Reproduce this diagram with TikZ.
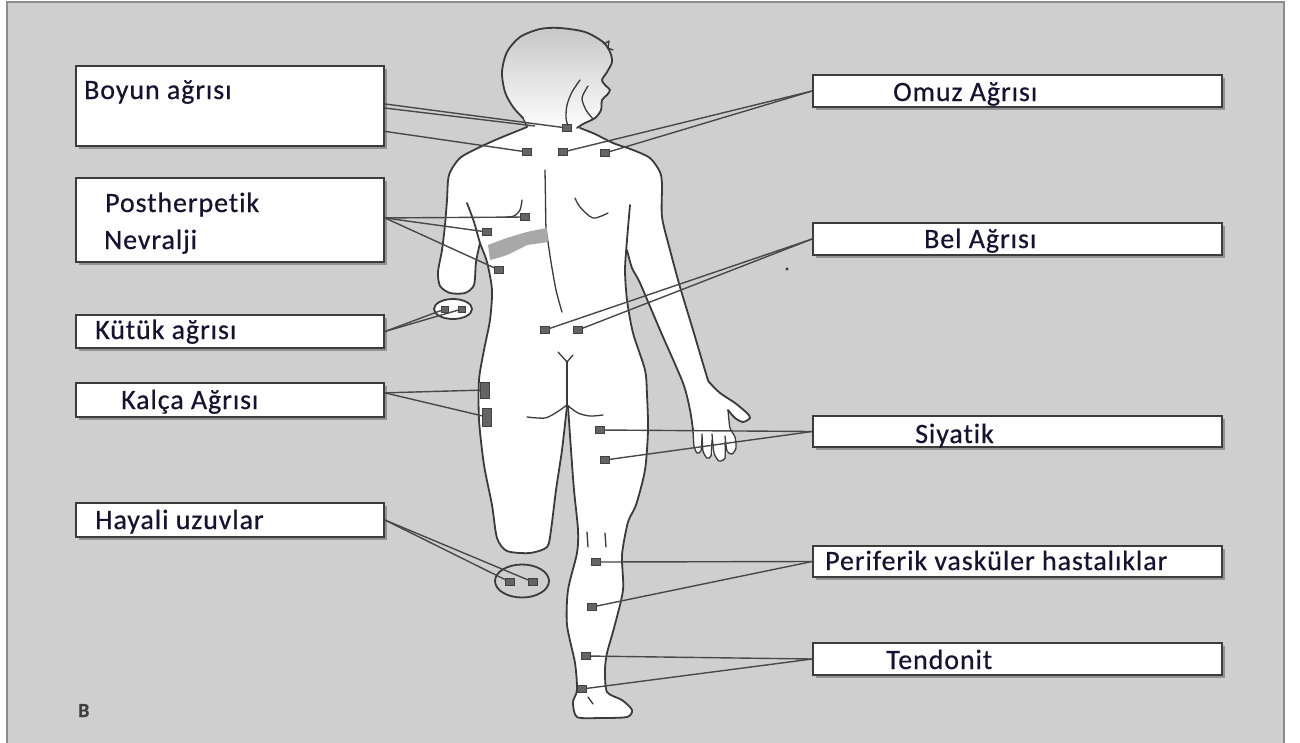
\documentclass[tikz,border=0pt]{standalone}
\usepackage{fontspec}
\setmainfont{Carlito}[LetterSpace=3.2,FakeBold=0.5,Ligatures={NoCommon,NoContextual}]
\usetikzlibrary{calc,shadows}
\definecolor{bg}{RGB}{207,207,207}
\definecolor{frameline}{RGB}{140,140,140}
\definecolor{boxline}{RGB}{60,60,60}
\definecolor{ink}{RGB}{22,18,48}
\definecolor{body}{RGB}{58,58,58}
\definecolor{wirecol}{RGB}{72,72,72}
\definecolor{mark}{RGB}{100,100,100}
\definecolor{markline}{RGB}{65,65,65}
\definecolor{band}{RGB}{168,168,168}
\begin{document}
\begin{tikzpicture}[x=1pt,y=-1pt,
  lbl/.style={draw=boxline,line width=1.8pt,fill=white,inner sep=0pt,
    drop shadow={shadow xshift=3pt,shadow yshift=-3pt,opacity=.45,fill=black!70}},
  txt/.style={font=\fontsize{28}{30}\selectfont,text=ink,inner sep=0pt,anchor=base west},
  mk/.style={rectangle,fill=mark,draw=markline,line width=.6pt,minimum width=9pt,minimum height=7pt,inner sep=0pt},
  mksmall/.style={mk,minimum width=7pt,minimum height=6pt},
  wire/.style={draw=wirecol,line width=1.4pt},
  contour/.style={draw=body,line width=1.8pt,line cap=round,line join=round},
  thinline/.style={draw=body,line width=1.3pt,line cap=round,line join=round}]
\useasboundingbox (0,0) rectangle (1300,742);

% panel
\fill[white] (0,0) rectangle (1300,742);
\fill[bg] (8,3) rectangle (1283,760);
\draw[frameline,line width=2.5pt] (7,760) -- (7,2) -- (1284,2) -- (1284,760);

% ---------- figure: silhouettes ----------
% head
\shade[top color=black!22,bottom color=white]
  plot[smooth cycle,tension=.5] coordinates {
  (523,118) (513,107) (505,92) (502,72) (507,52) (520,37) (540,29) (560,28)
  (585,32) (603,42) (610,52) (612,62) (607,72) (602,80) (606,86) (610,90)
  (607,95) (602,100) (601,110) (595,118) (583,124) (577,128) (555,131) (535,129)};

% trunk, stump of the left arm, left thigh and right leg
\fill[white] plot[smooth cycle,tension=.45] coordinates {
  (527,127) (500,138) (480,147) (460,158) (449,175) (447,200) (445,225)
  (442,250) (438,272) (440,286) (450,293) (465,293) (474,285) (476,262)
  (480,243) (487,262) (492,290) (490,320) (484,350) (479,380) (479,420)
  (484,465) (492,505) (497,538) (507,551) (530,553) (547,547) (551,530)
  (556,490) (562,450) (567,410) (571,450) (574,490) (578,530) (577,553)
  (568,590) (567,625) (575,663) (577,690) (573,702) (577,717) (600,718)
  (627,717) (632,710) (622,700) (607,692) (605,670) (607,653) (614,628)
  (623,590) (622,555) (628,522) (636,505) (645,470) (648,430) (647,395)
  (645,370) (633,333) (627,300) (625,270) (627,240) (630,205) (650,190)
  (660,175) (650,158) (633,150) (613,143) (595,134) (580,128)};

% right arm and hand
\fill[white] plot[smooth cycle,tension=.35] coordinates {
  (610,147) (633,150) (650,158) (660,172) (662,185) (662,217) (670,250)
  (680,287) (693,330) (707,377) (710,383) (720,393) (735,403) (747,413)
  (750,418) (743,422) (735,418) (728,410) (731,430) (735,437) (736,448)
  (732,454) (727,451) (725,458) (719,461) (714,453) (711,456) (707,458)
  (703,451) (701,451) (697,453) (694,446) (693,430) (690,410) (683,383)
  (660,330) (640,283) (632,268) (627,250) (627,230) (625,200) (615,170)};

% ---------- figure: outlines ----------
% head
\draw[contour] plot[smooth,tension=.5] coordinates {
  (523,118) (513,107) (505,92) (502,72) (507,52) (520,37) (540,29) (560,28)
  (585,32) (603,42) (610,52) (612,62) (607,72) (602,80) (606,86) (610,90)
  (607,95) (602,100) (601,110) (595,118) (583,124) (577,128)};
\draw[thinline] (604,44) -- (609,41) -- (608,48) -- (613,50);
\draw[thinline] plot[smooth] coordinates {(580,80) (572,92) (567,105) (566,118) (568,126)};
\draw[thinline] plot[smooth] coordinates {(588,86) (582,98) (586,110) (593,119)};
\draw[thinline] (523,118) -- (527,127);

% left shoulder and arm stump
\draw[contour] plot[smooth,tension=.45] coordinates {
  (527,127) (500,138) (480,147) (460,158) (449,175) (447,200) (445,225)
  (442,250) (438,272) (440,286) (450,293) (465,293) (474,285) (476,262)
  (480,243)};
% armpit crease, left flank and left thigh stump
\draw[contour] plot[smooth,tension=.45] coordinates {
  (467,203) (474,222) (480,243) (487,262) (492,290) (490,320) (484,350)
  (479,380) (479,420) (484,465) (492,505) (497,538) (507,551) (530,553)
  (547,547) (551,530) (556,490) (562,450) (567,406)};
% right leg and right flank
\draw[contour] plot[smooth,tension=.45] coordinates {
  (568,406) (571,450) (574,490) (578,530) (577,553) (568,590) (567,625)
  (575,663) (577,690) (573,702) (577,717) (600,718) (627,717) (632,710)
  (622,700) (607,692) (605,670) (607,653) (614,628) (623,590) (622,555)
  (628,522) (636,505) (645,470) (648,430) (647,395) (645,370) (633,333)
  (627,300) (625,270) (627,240) (630,205)};
% right shoulder and outer arm
\draw[contour] plot[smooth,tension=.45] coordinates {
  (580,128) (595,134) (613,143) (633,150) (650,158) (660,172) (662,185)
  (662,217) (670,250) (680,287) (693,330) (707,377) (710,383) (720,393)
  (735,403) (747,413) (750,418) (743,422) (735,418) (728,410)};
% inner arm
\draw[contour] plot[smooth,tension=.45] coordinates {
  (627,250) (632,268) (640,283) (660,330) (683,383) (690,410) (693,430)};
% fingers
\draw[thinline] plot[smooth,tension=.4] coordinates {
  (693,430) (694,446) (697,453) (701,451) (702,438)};
\draw[thinline] plot[smooth,tension=.4] coordinates {
  (702,434) (703,451) (707,458) (711,456) (712,440)};
\draw[thinline] plot[smooth,tension=.4] coordinates {
  (712,434) (714,453) (719,461) (725,458) (725,442)};
\draw[thinline] plot[smooth,tension=.4] coordinates {
  (725,436) (727,451) (732,454) (736,448) (735,437) (730,428) (728,410)};

% spine, shoulder blades, buttocks, knee, foot
\draw[thinline] plot[smooth] coordinates {(545,170) (545.5,200) (546,228) (548,242) (551,262) (556,290) (562,312)};
\fill[band] plot[smooth,tension=.5] coordinates {(488,245) (507,238) (527,232) (547,228)}
  -- (548,242) -- plot[smooth,tension=.5] coordinates {(527,245) (507,255) (490,260)} -- cycle;
\draw[thinline] plot[smooth] coordinates {(575,198) (580,207) (593,218) (608,213)};
\draw[thinline] plot[smooth] coordinates {(522,200) (520,210) (514,216) (506,217)};
\draw[thinline] (558,352) -- (567,362) -- (573,355);
\draw[thinline] (567,362) -- (567,408);
\draw[thinline] plot[smooth] coordinates {(527,417) (545,418) (557,412) (567,405)};
\draw[thinline] plot[smooth] coordinates {(567,405) (578,413) (590,416) (603,415)};
\draw[thinline] (587,532) -- (588,547);
\draw[thinline] (605,533) -- (606,547);
\draw[thinline] (588,697) -- (593,704);

% stump and phantom limb outlines
\draw[contour,fill=white] (453,309) ellipse [x radius=19, y radius=10];
\draw[contour] (522,581) ellipse [x radius=27, y radius=16.5];

% stray dot
\fill[black!80] (787,269) circle [radius=1.6pt];

% ---------- marker squares ----------
\node[mk] (b1) at (567,128) {};
\node[mk] (b2) at (527,152) {};
\node[mk] (b3) at (563,152) {};
\node[mk] (o1) at (605,153) {};
\node[mk] (p1) at (525,217) {};
\node[mk] (p2) at (487,232) {};
\node[mk] (p3) at (499,270) {};
\node[mksmall] (k1) at (445,309) {};
\node[mksmall] (k2) at (462,309) {};
\node[mk,minimum height=16pt] (h1) at (485,390) {};
\node[mk,minimum height=18pt] (h2) at (487,417) {};
\node[mk] (hy1) at (510,582) {};
\node[mk] (hy2) at (533,582) {};
\node[mk] (bel1) at (545,330) {};
\node[mk] (bel2) at (578,330) {};
\node[mk] (s1) at (600,430) {};
\node[mk] (s2) at (605,460) {};
\node[mk] (pv1) at (596,562) {};
\node[mk] (pv2) at (592,607) {};
\node[mk] (t1) at (586,656) {};
\node[mk] (t2) at (582,689) {};
\coordinate (nk) at (535,126);

% ---------- label boxes ----------
\node[lbl,minimum width=308pt,minimum height=80pt] (boyun) at (230,106) {};
\node[lbl,minimum width=308pt,minimum height=84pt] (post) at (230,220) {};
\node[lbl,minimum width=308pt,minimum height=33pt] (kutuk) at (230,331.5) {};
\node[lbl,minimum width=308pt,minimum height=34pt] (kalca) at (230,400) {};
\node[lbl,minimum width=308pt,minimum height=34pt] (hayali) at (230,520) {};
\node[lbl,minimum width=409pt,minimum height=32pt] (omuz) at (1017.5,91) {};
\node[lbl,minimum width=409pt,minimum height=32pt] (bel) at (1017.5,239) {};
\node[lbl,minimum width=409pt,minimum height=31pt] (siyatik) at (1017.5,431.5) {};
\node[lbl,minimum width=409pt,minimum height=31pt] (periferik) at (1017.5,561.5) {};
\node[lbl,minimum width=409pt,minimum height=32pt] (tendonit) at (1017.5,659) {};

% ---------- connectors ----------
\draw[wire] ($(boyun.north east)!0.475!(boyun.south east)$) -- (b1);
\draw[wire] ($(boyun.north east)!0.525!(boyun.south east)$) -- (nk);
\draw[wire] ($(boyun.north east)!0.81!(boyun.south east)$) -- (b2);
\draw[wire] (omuz.west) -- (b3);
\draw[wire] (omuz.west) -- (o1);
\draw[wire] ($(post.north east)!0.476!(post.south east)$) -- (p1);
\draw[wire] ($(post.north east)!0.476!(post.south east)$) -- (p2);
\draw[wire] ($(post.north east)!0.476!(post.south east)$) -- (p3);
\draw[wire] (kutuk.east) -- (k1);
\draw[wire] (kutuk.east) -- (k2);
\draw[wire] ($(kalca.north east)!0.3!(kalca.south east)$) -- (h1);
\draw[wire] ($(kalca.north east)!0.3!(kalca.south east)$) -- (h2);
\draw[wire] (hayali.east) -- (hy1);
\draw[wire] (hayali.east) -- (hy2);
\draw[wire] (bel.west) -- (bel1);
\draw[wire] (bel.west) -- (bel2);
\draw[wire] (siyatik.west) -- (s1);
\draw[wire] (siyatik.west) -- (s2);
\draw[wire] (periferik.west) -- (pv1);
\draw[wire] (periferik.west) -- (pv2);
\draw[wire] (tendonit.west) -- (t1);
\draw[wire] (tendonit.west) -- (t2);

% ---------- texts ----------
\node[txt] (tBoyun) at (84,99) {Boyun ağrısı};
\node[txt] (tPost) at (105,212) {Postherpetik};
\node[txt] (tNev) at (104,249) {Nevralji};
\node[txt] (tKut) at (95,339) {Kütük ağrısı};
\node[txt] (tKal) at (121,409) {Kalça Ağrısı};
\node[txt] (tHay) at (95,529) {Hayali uzuvlar};
\node[txt] (tOmuz) at (893,101) {Omuz Ağrısı};
\node[txt] (tBel) at (924,248) {Bel Ağrısı};
\node[txt] (tSiy) at (915,443) {Siyatik};
\node[txt] (tPer) at (825,570) {Periferik vasküler hastalıklar};
\node[txt] (tTen) at (886,669) {Tendonit};
\node[font=\bfseries\fontsize{20}{20}\selectfont,text=black!75,inner sep=0pt,anchor=base west] (tB) at (78,717) {B};
\end{tikzpicture}
\end{document}
